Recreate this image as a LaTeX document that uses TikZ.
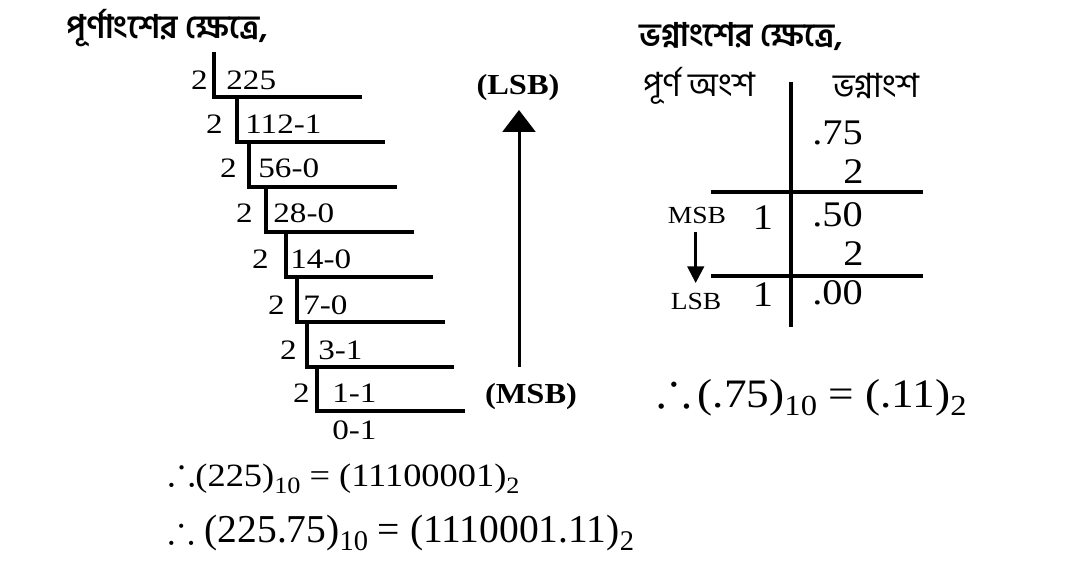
\documentclass[tikz,border=0pt]{standalone}
\usepackage{fontspec}
\usepackage{amssymb}
\usepackage{graphicx}
\usetikzlibrary{arrows.meta}
\setmainfont{Liberation Serif}
\newfontfamily\stairf{Liberation Serif}[FakeStretch=1.18]
\newfontfamily\tabf{Liberation Serif}[FakeStretch=1.12]
\newfontfamily\bn[Script=Bengali]{Hind Siliguri}
\newcommand\lowsub[1]{\raisebox{-0.45ex}{\scalebox{0.72}{#1}}}
\newcommand\thr{\raisebox{0.1ex}{\scalebox{1.25}{$\therefore$}}}
\begin{document}
\begin{tikzpicture}[x=0.02cm,y=-0.02cm,
  txt/.style={inner sep=0pt},
  st/.style={txt, font=\stairf\fontsize{16}{19}\selectfont},
  tb/.style={txt, font=\tabf\fontsize{20.5}{24}\selectfont},
  tbs/.style={txt, font=\tabf\fontsize{14}{16}\selectfont},
  lb/.style={txt, font=\tabf\bfseries\fontsize{16.5}{19}\selectfont},
  bnt/.style={txt, anchor=west, font=\bn\bfseries\fontsize{18.5}{22}\selectfont},
  bnh/.style={txt, anchor=west, font=\bn\fontsize{19}{22}\selectfont},
  rule/.style={line width=2pt},
  trule/.style={line width=2.3pt}]
\path[use as bounding box] (0,0) rectangle (1077,561);

% titles
\node[bnt] (t1) at (66,28) {পূর্ণাংশের ক্ষেত্রে,};
\node[bnt] (t2) at (639,37) {ভগ্নাংশের ক্ষেত্রে,};

% staircase
\foreach \i/\vx/\yt/\yb/\hx/\tx/\lx/\ly/\lab in {
  1/214/52/97/362/208/226/80/225,
  2/237/97/142/385/223/245/124/112-1,
  3/249/142/187/397/237/258/168/56-0,
  4/266/187/232/414/253/273/213/28-0,
  5/286/232/277/433/269/290/259/14-0,
  6/297/277/322/445/285/303/305/7-0,
  7/307/322/367/454/297/318/350/3-1,
  8/317/367/411/465/310/332/393/1-1}{
  \draw[rule] (\vx,\yt) -- (\vx,\yb) -- (\hx,\yb);
  \node[st, anchor=east] (d\i) at (\tx,\ly) {2};
  \node[st, anchor=west] (q\i) at (\lx,\ly) {\lab};
}
\node[st, anchor=west] (q9) at (332,430) {0-1};

% middle arrow
\node[lb] (lsb) at (518,88) {(LSB)};
\node[lb] (msb) at (531,397) {(MSB)};
\coordinate (abot) at (519,367);
\coordinate (atop) at (519,110);
\draw[line width=1.7pt, -{Triangle[width=18.7pt,length=12.5pt]}] (abot) -- (atop);

% right table
\node[bnh] (h1) at (643,86) {পূর্ণ অংশ};
\node[bnh] (h2) at (833,86) {ভগ্নাংশ};
\coordinate (vt) at (791,82);
\coordinate (vb) at (791,327);
\draw[trule] (vt) -- (vb);
\coordinate (l1a) at (711,191.7);
\coordinate (l1b) at (923,191.7);
\coordinate (l2a) at (711,275.7);
\coordinate (l2b) at (923,275.7);
\draw[trule] (l1a) -- (l1b);
\draw[trule] (l2a) -- (l2b);
\node[tb, anchor=west] (f1) at (812,133) {.75};
\node[tb, anchor=east] (m1) at (864,172) {2};
\node[tb, anchor=west] (f2) at (812,215) {.50};
\node[tb, anchor=east] (m2) at (864,254) {2};
\node[tb, anchor=west] (f3) at (812,293) {.00};
\node[tb] (i1) at (763,218) {1};
\node[tb] (i2) at (763,295) {1};
\node[tbs] (msbr) at (697,215) {MSB};
\node[tbs] (lsbr) at (696,301) {LSB};
\coordinate (sa) at (695.7,232);
\coordinate (sb) at (695.7,283);
\draw[line width=1.4pt, -{Triangle[width=9.5pt,length=9.5pt]}] (sa) -- (sb);

% results
\node[txt, anchor=west, font=\tabf\fontsize{23}{27}\selectfont] (r1) at (657,393)
  {\thr\,(.75)\lowsub{10} = (.11)\lowsub{2}};
\node[txt, anchor=west, font=\tabf\fontsize{18.5}{22}\selectfont] (r2) at (168,475)
  {\thr(225)\lowsub{10} = (11100001)\lowsub{2}};
\node[txt, anchor=west, font=\fontsize{22.5}{26}\selectfont] (r3) at (168,533)
  {$\therefore$ (225.75)\lowsub{10} = (1110001.11)\lowsub{2}};
\end{tikzpicture}
\end{document}
